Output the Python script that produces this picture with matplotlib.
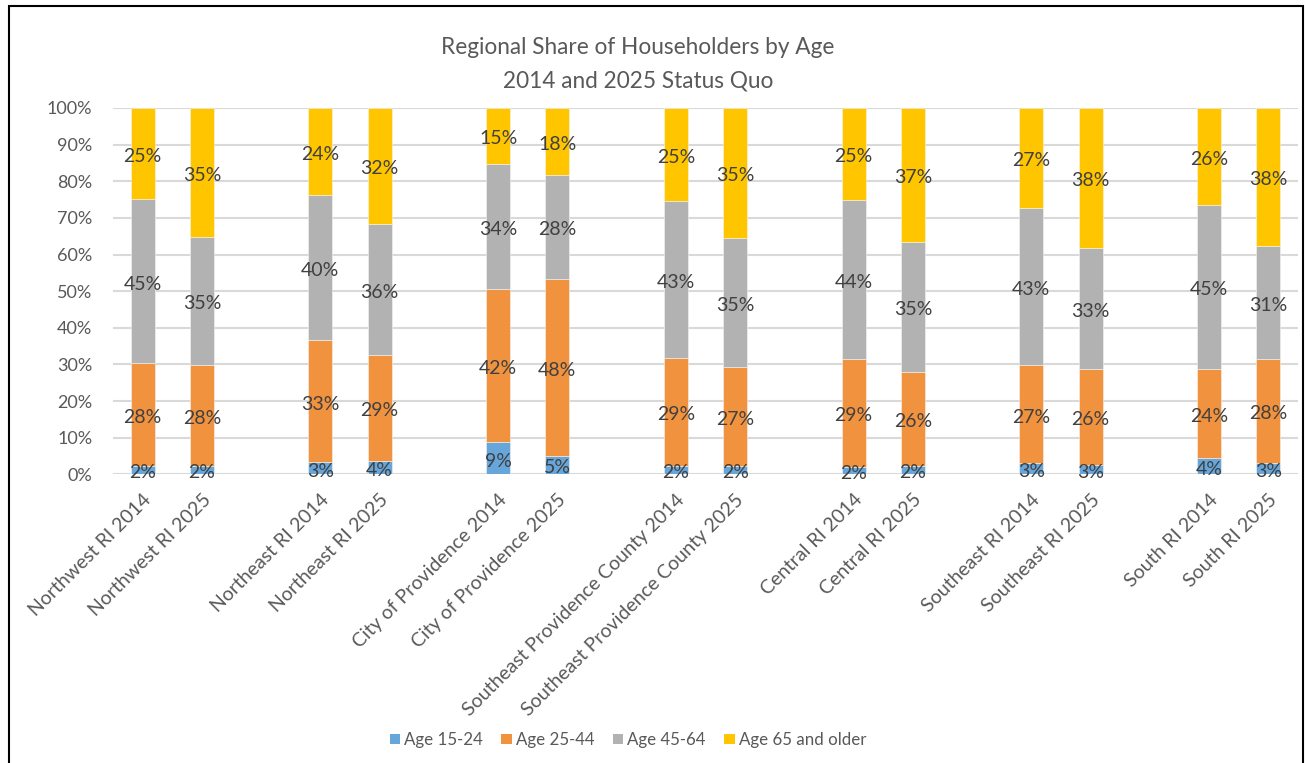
import matplotlib
matplotlib.use('Agg')
import matplotlib.pyplot as plt
from matplotlib.patches import Rectangle, Patch
from matplotlib.ticker import FuncFormatter, MultipleLocator

plt.rcParams['font.family'] = ['Lato', 'DejaVu Sans']

regions = ["Northwest RI", "Northeast RI", "City of Providence",
           "Southeast Providence County", "Central RI", "Southeast RI", "South RI"]
years = ["2014", "2025"]
series_names = ["Age 15-24", "Age 25-44", "Age 45-64", "Age 65 and older"]
# Bars in order: each region 2014 then 2025 (percent)
age_15_24 = [2.4, 2.3, 3.3, 3.7, 8.7, 5.0, 2.4, 2.3, 2.1, 2.3, 3.0, 2.6, 4.4, 3.2]
age_25_44 = [27.9, 27.6, 33.3, 28.8, 41.9, 48.4, 29.4, 26.9, 29.3, 25.7, 26.8, 26.1, 24.4, 28.4]
age_45_64 = [44.8, 35.0, 39.6, 35.9, 34.2, 28.3, 42.8, 35.4, 43.6, 35.4, 42.8, 33.2, 44.8, 30.7]
age_65_up = [24.9, 35.1, 23.8, 31.6, 15.2, 18.3, 25.4, 35.4, 25.0, 36.6, 27.4, 38.1, 26.4, 37.7]

colors = ["#67A6DA", "#F1923F", "#B2B2B2", "#FFC600"]
series = [age_15_24, age_25_44, age_45_64, age_65_up]

W, H = 1305, 763
fig = plt.figure(figsize=(W / 100, H / 100), dpi=100)
ax = fig.add_axes([113 / W, 1 - 474.3 / H, (1298 - 113) / W, (474.3 - 108) / H])

labels = [f"{r} {y}" for r in regions for y in years]
xpos = [g * 3 + j for g in range(len(regions)) for j in range(len(years))]

bottom = [0.0] * len(xpos)
for vals, col in zip(series, colors):
    ax.bar(xpos, vals, width=0.405, bottom=bottom, color=col,
           edgecolor='#F4F4F4', linewidth=0.4, zorder=3)
    for x, b, v in zip(xpos, bottom, vals):
        ax.annotate(f"{v:.0f}%", (x, b + v / 2), xytext=(0, -2),
                    textcoords='offset points', ha='center', va='center',
                    fontsize=14, color='#404040', zorder=4)
    bottom = [b + v for b, v in zip(bottom, vals)]

ax.set_xlim(-0.5, 19.5)
ax.set_ylim(0, 100)
ax.yaxis.set_major_locator(MultipleLocator(10))
ax.yaxis.set_major_formatter(FuncFormatter(lambda v, p: f"{v:.0f}%"))
ax.grid(axis='y', color='#D9D9D9', linewidth=1.5, zorder=0)
ax.set_axisbelow(True)
for s in ax.spines.values():
    s.set_visible(False)
ax.tick_params(axis='both', length=0, labelcolor='#595959')
ax.tick_params(axis='y', pad=15, labelsize=13)
ax.set_xticks(xpos)
ax.set_xticklabels(labels, rotation=45, ha='right', rotation_mode='anchor')
ax.tick_params(axis='x', pad=12, labelsize=14)

fig.text(638 / W, 1 - 48 / H, "Regional Share of Householders by Age",
         ha='center', va='center', fontsize=16.3, color='#595959')
fig.text(638 / W, 1 - 81 / H, "2014 and 2025 Status Quo",
         ha='center', va='center', fontsize=16.3, color='#595959')

handles = [Patch(facecolor=c, edgecolor='none') for c in colors]
fig.legend(handles, series_names, loc='center', bbox_to_anchor=(628 / W, 1 - 740 / H),
           ncol=4, frameon=False, fontsize=12.2, labelcolor='#595959',
           handlelength=0.6, handleheight=0.6, handletextpad=0.25, columnspacing=1.1)

fig.patches.append(Rectangle((9 / W, -0.05), (1303 - 9) / W, (763 - 6) / H + 0.05,
                             transform=fig.transFigure, fill=False,
                             edgecolor='black', linewidth=1.5))

fig.savefig("out.png", dpi=100)
